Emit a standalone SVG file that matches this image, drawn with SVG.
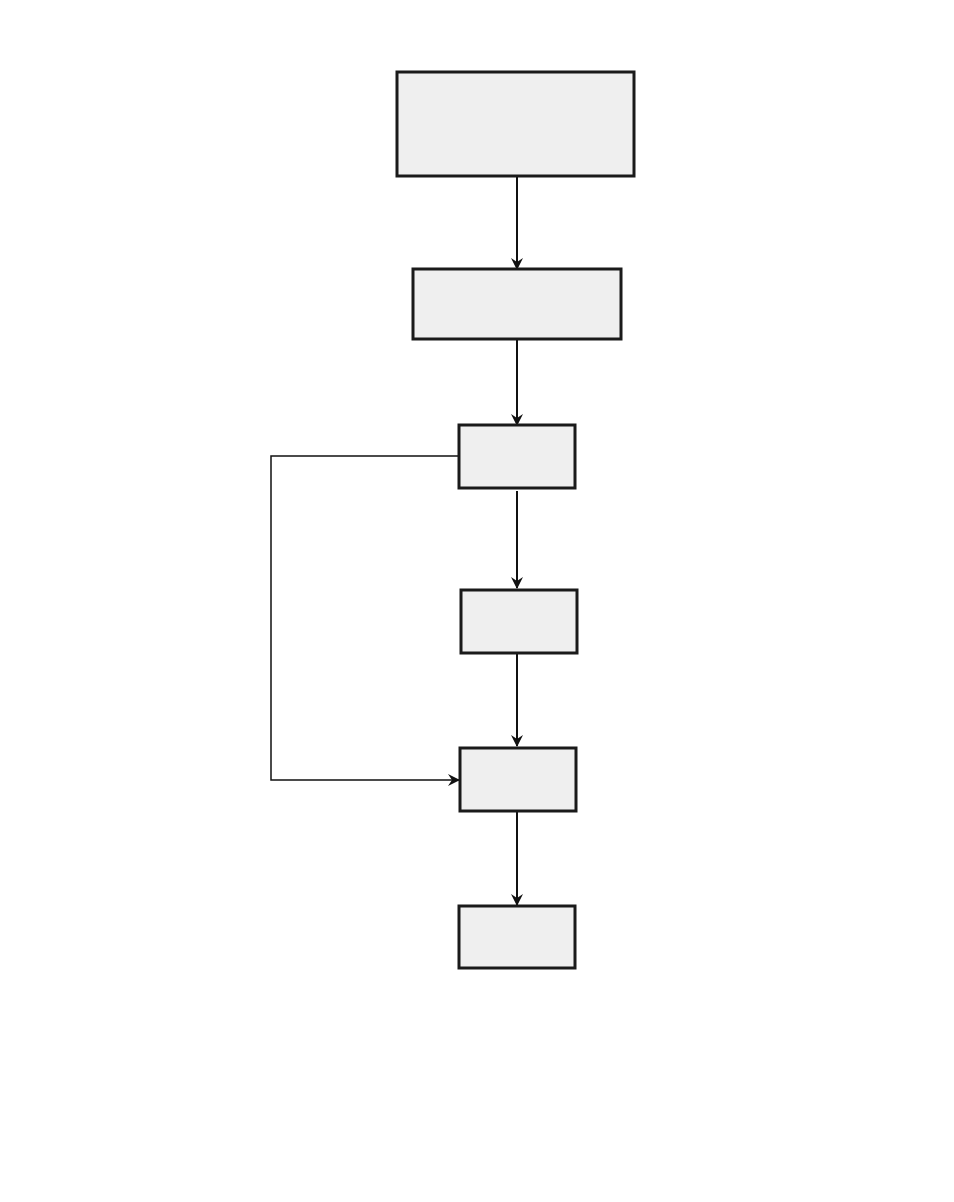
<svg xmlns="http://www.w3.org/2000/svg" width="954" height="1202" viewBox="0 0 954 1202">
<style>
.n{fill:#efefef;stroke:#1a1a1a;stroke-width:3}
.c{fill:none;stroke:#111;stroke-width:2}
.t{fill:none;stroke:#111;stroke-width:1.5}
</style>
<defs>
<marker id="a" viewBox="0 0 12 12" refX="11" refY="6" markerWidth="12" markerHeight="12" markerUnits="userSpaceOnUse" orient="auto">
<path d="M0,0 L12,6 L0,12 L4,6 Z" fill="#111"/>
</marker>
</defs>
<rect width="954" height="1202" fill="#fff"/>
<g id="connectors">
<path class="c" d="M517,177 V269" marker-end="url(#a)"/>
<path class="c" d="M517,340 V425" marker-end="url(#a)"/>
<path class="c" d="M517,491 V588" marker-end="url(#a)"/>
<path class="c" d="M517,652 V746" marker-end="url(#a)"/>
<path class="c" d="M517,812 V905" marker-end="url(#a)"/>
<path class="t" d="M458,456 H271 V780 H459" marker-end="url(#a)"/>
</g>
<g id="n1"><rect class="n" x="397" y="72" width="237" height="104"/></g>
<g id="n2"><rect class="n" x="413" y="269" width="208" height="70"/></g>
<g id="n3"><rect class="n" x="459" y="425" width="116" height="63"/></g>
<g id="n4"><rect class="n" x="461" y="590" width="116" height="63"/></g>
<g id="n5"><rect class="n" x="460" y="748" width="116" height="63"/></g>
<g id="n6"><rect class="n" x="459" y="906" width="116" height="62"/></g>
</svg>
